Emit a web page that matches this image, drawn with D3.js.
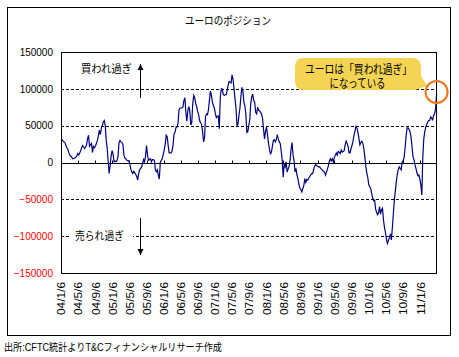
<!DOCTYPE html>
<html><head><meta charset="utf-8">
<script src="https://cdn.jsdelivr.net/npm/d3@7"></script>
<style>
body{margin:0;background:#fff}
svg{display:block}
text{font-family:"Liberation Sans","Noto Sans CJK JP",sans-serif}
</style>
</head><body>
<svg id="c" width="459" height="357"></svg>
<script>
// ---- data (CFTC euro net positions, weekly, contracts) ----
const startDate = "2004-01-06";
const endDate = "2011-05-06";
const pos2004 = [30000,31000,29000,28000,27000,23000,20000,18000,13000,10000,8500,7000,5000,5500,6000,7000,8500,12000,10000,13000,16000,20000,23000,21000,19000,21000,24000,32000,37000,22000,24000,26000,13500,22000,20000,22000,26000,30000,36000,44000,38000,46000,50000,55000,57000,50000,30000,19000,1000,-15000,-4000,9000];
const pos2005 = [16000,11000,1000,2000,1000,3000,8000,27000,30000,28000,27000,24000,10000,6000,5000,3000,2500,2000,-2000,-9000,-13000,-15000,-12000,-14000,-16000,-19000,-24000,-15000,-10000,-8000,-6000,-1000,4000,1000,9000,23000,10000,3000,4000,5000,1000,4000,4000,3000,-10000,-12600,-10000,-17000,-22500,0,3000,5000];
const pos2006 = [11000,17000,25000,37000,35000,23000,13000,13000,13000,16000,24000,39000,41000,48000,48000,53000,71000,74000,74000,74000,75000,84000,88000,68000,56000,70000,76000,70000,51000,54000,80000,91000,88000,80000,76000,69000,65000,57000,54000,52000,42000,28000,34000,63000,66000,65000,72000,85000,97000,91000,82000,77000];
const pos2007 = [74000,66000,61000,63000,63000,46000,88000,100000,100000,93000,91000,92000,92000,98000,105000,110000,109000,108000,119000,113000,100000,86000,74000,50000,52000,64000,74000,90000,102000,97000,82000,77000,66000,41000,42000,50000,58000,80000,89000,93000,84000,82000,68000,66000,75000,71000,70000,68000,66000,60000,45000,32000];
const pos2008 = [42000,48000,38000,27000,18000,12000,14000,22000,30000,31000,28000,31000,38000,32000,28000,26000,15000,3000,-20000,-2000,-6000,1000,-13000,-9000,-5000,3000,18000,27000,10000,3000,-12600,-8000,-17000,-22000,-30000,-35000,-37000,-40000,-35000,-31000,-22000,-27000,-23000,-24000,-21000,-19000,-17000,-15000,-15000,-9000,-5000,-3000,-4000];
const pos2009 = [-5000,-6000,-6000,-8000,-9000,-11000,-12000,-13000,-17000,-13000,-9000,-4000,2000,5000,2000,5000,1000,7000,10000,13000,10000,15000,14000,12000,17000,14000,15000,16000,24000,29000,26000,22000,13000,13000,19000,23000,29000,37000,43000,49000,47000,41000,33000,24000,27000,29000,26000,19000,8000,-5000,-14000,-20000];
const pos2010 = [-30000,-33000,-35000,-42000,-48000,-52000,-51000,-63000,-68000,-71000,-68000,-60000,-70000,-64000,-62000,-78000,-88000,-95000,-104000,-110000,-106000,-102000,-97000,-105000,-89000,-70000,-52000,-39000,-27000,-16000,-10000,-6000,-8000,-10000,1000,2000,7000,20000,36000,47000,47000,45000,42000,35000,22000,8000,4000,-3000,-8000,-14000,-18000,-17000];
const pos2011 = [-23000,-30000,-44000,8000,32000,42000,48000,52000,55000,57000,57000,62000,60000,58000,64000,66000,73000,93000];

const yTicks = [150000,100000,50000,0,-50000,-100000,-150000];
const gridValues = [100000,50000,-50000,-100000];
const xTickLabels = ["04/1/6","04/5/6","04/9/6","05/1/6","05/5/6","05/9/6","06/1/6","06/5/6","06/9/6","07/1/6","07/5/6","07/9/6","08/1/6","08/5/6","08/9/6","09/1/6","09/5/6","09/9/6","10/1/6","10/5/6","10/9/6","11/1/6"];

const titleText = "ユーロのポジション";
const sourceText = "出所:CFTC統計よりT&Cフィナンシャルリサーチ作成";
const overboughtText = "買われ過ぎ";
const oversoldText = "売られ過ぎ";
const calloutLines = ["ユーロは「買われ過ぎ」","になっている"];

// ---- build ----
const parseISO = d3.timeParse("%Y-%m-%d");
const parseTick = d3.timeParse("%y/%m/%d");
const positions = [].concat(pos2004,pos2005,pos2006,pos2007,pos2008,pos2009,pos2010,pos2011);
const t0 = parseISO(startDate);
const series = positions.map((v,i)=>({date:d3.timeDay.offset(t0,7*i), value:v}));
const tickDates = xTickLabels.map(s=>parseTick(s));

const svg = d3.select("#c");
const L=61, R=437, T=52, B=273;

const x = d3.scaleTime().domain([t0, parseISO(endDate)]).range([L,R]);
const y = d3.scaleLinear().domain([-150000,150000]).range([B,T]);

// outer frame
svg.append("rect").attr("x",7.5).attr("y",7.5).attr("width",443).attr("height",328)
  .attr("fill","none").attr("stroke","#000").attr("stroke-width",1);

// title
svg.append("text").attr("x",228).attr("y",25).attr("text-anchor","middle")
  .attr("font-size",11).attr("textLength",86).attr("lengthAdjust","spacingAndGlyphs").text(titleText);

// grid dashed
svg.append("g").selectAll("line").data(gridValues).join("line")
  .attr("x1",L).attr("x2",R)
  .attr("y1",d=>Math.round(y(d))+0.5).attr("y2",d=>Math.round(y(d))+0.5)
  .attr("stroke","#000").attr("stroke-width",1).attr("stroke-dasharray","3,2");

// annotations (under data)
const oversoldY = Math.round(y(-100000))+0.5;
svg.append("rect").attr("x",71).attr("y",oversoldY-7).attr("width",62).attr("height",13).attr("fill","#fff");
svg.append("text").attr("x",75).attr("y",240).attr("font-size",11)
  .attr("textLength",49).attr("lengthAdjust","spacingAndGlyphs").text(oversoldText);
svg.append("text").attr("x",81).attr("y",73).attr("font-size",11)
  .attr("textLength",51).attr("lengthAdjust","spacingAndGlyphs").text(overboughtText);

// arrows
function arrow(xp, yFrom, yTo){
  svg.append("line").attr("x1",xp).attr("x2",xp).attr("y1",yFrom).attr("y2",yTo)
    .attr("stroke","#000").attr("stroke-width",1);
  const dir = yTo<yFrom ? -1 : 1;
  svg.append("path").attr("d",`M${xp-3},${yTo-dir*6} L${xp+3},${yTo-dir*6} L${xp},${yTo} Z`)
    .attr("fill","#000");
}
arrow(140.5, 98, 64);
arrow(140.5, 218, 255);

// zero line
const y0 = Math.round(y(0))+0.5;
svg.append("line").attr("x1",L).attr("x2",R).attr("y1",y0).attr("y2",y0).attr("stroke","#000");
// x ticks on zero line (upward)
svg.append("g").selectAll("line").data(tickDates).join("line")
  .attr("x1",d=>Math.round(x(d))+0.5).attr("x2",d=>Math.round(x(d))+0.5)
  .attr("y1",y0-3).attr("y2",y0).attr("stroke","#000");

// data line
svg.append("path").datum(series)
  .attr("d",d3.line().x(d=>x(d.date)).y(d=>y(d.value)))
  .attr("fill","none").attr("stroke","#000080").attr("stroke-width",1.2).attr("stroke-linejoin","miter");

// plot frame
svg.append("rect").attr("x",L+0.5).attr("y",T+0.5).attr("width",R-L-1).attr("height",B-T)
  .attr("fill","none").attr("stroke","#000");

// y axis labels
const yAxis = d3.axisLeft(y).tickValues(yTicks).tickSize(0).tickPadding(8).tickFormat(d3.format("d"));
const gy = svg.append("g").attr("transform",`translate(${L},0)`).call(yAxis);
gy.select(".domain").remove();
gy.selectAll("text").attr("font-size",10).attr("font-family",null)
  .attr("fill",d=>d<0?"#ff0000":"#000");

// x axis labels (rotated)
const xAxis = d3.axisBottom(x).tickValues(tickDates).tickSize(0)
  .tickFormat((d,i)=>xTickLabels[i]);
const gx = svg.append("g").attr("transform",`translate(0,${B})`).call(xAxis);
gx.select(".domain").remove();
gx.selectAll("text").attr("font-size",11).attr("font-family",null).attr("fill","#000")
  .attr("text-anchor","end").attr("transform","rotate(-90)")
  .attr("x",-9).attr("y",0).attr("dy","0.35em")
  .attr("textLength",33).attr("lengthAdjust","spacingAndGlyphs");

// callout
const cx0=295, cx1=421, cy0=58, cy1=90, r=9;
svg.append("path").attr("d",
  `M${cx0+r},${cy0} L${cx1-r},${cy0} Q${cx1},${cy0} ${cx1},${cy0+r} L${cx1},${cy1-14} L${427},${86} L${cx1-6},${cy1} L${cx0+r},${cy1} Q${cx0},${cy1} ${cx0},${cy1-r} L${cx0},${cy0+r} Q${cx0},${cy0} ${cx0+r},${cy0} Z`)
  .attr("fill","#F4D452");
svg.append("text").attr("x",358.5).attr("y",74).attr("text-anchor","middle").attr("font-size",12)
  .attr("textLength",107).attr("lengthAdjust","spacingAndGlyphs").text(calloutLines[0]);
svg.append("text").attr("x",357.5).attr("y",88).attr("text-anchor","middle").attr("font-size",12)
  .attr("textLength",56).attr("lengthAdjust","spacingAndGlyphs").text(calloutLines[1]);

// orange circle highlighting last point
const last = series[series.length-1];
svg.append("circle").attr("cx",x(last.date)).attr("cy",y(last.value)-2).attr("r",11)
  .attr("fill","none").attr("stroke","#F07418").attr("stroke-width",2);

// source
svg.append("text").attr("x",4).attr("y",351).attr("font-size",10.5)
  .attr("textLength",218).attr("lengthAdjust","spacingAndGlyphs").text(sourceText);
</script>
</body></html>
